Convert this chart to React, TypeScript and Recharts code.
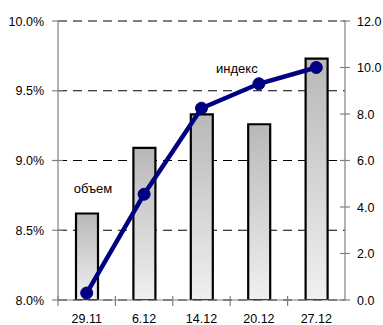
import React from 'react';
import { ComposedChart, Bar, Line, XAxis, YAxis, CartesianGrid, LabelList } from 'recharts';

const categories = ['29.11', '6.12', '14.12', '20.12', '27.12'];
const volumeValues = [8.62, 9.09, 9.33, 9.26, 9.73];
const indexValues = [0.3, 4.55, 8.25, 9.3, 10.0];
const leftTicks = [8.0, 8.5, 9.0, 9.5, 10.0];
const rightTicks = [0, 2, 4, 6, 8, 10, 12];
const volumeLabel = 'объем';
const indexLabel = 'индекс';

const data = categories.map((c, i) => ({ cat: c, volume: volumeValues[i], index: indexValues[i] }));

const FONT = '"Liberation Sans", Arial, sans-serif';
const AXIS = '#808080';

const XTick = (props: any) => {
  const { x, y, payload } = props;
  const off = payload && payload.offset != null ? payload.offset : 28.7;
  return (
    <g>
      <line x1={x - off} x2={x - off} y1={y - 4} y2={y + 6} stroke={AXIS} strokeWidth={1.2} />
      <text x={x} y={y + 23} textAnchor="middle" fontSize={12.5} fontFamily={FONT} fill="#000">
        {payload.value}
      </text>
    </g>
  );
};

const LeftTick = (props: any) => {
  const { x, y, payload } = props;
  return (
    <g>
      <line x1={x - 6} x2={x + 5} y1={y} y2={y} stroke={AXIS} strokeWidth={1.2} />
      <text x={x - 14} y={y} dy="0.36em" textAnchor="end" fontSize={12.5} fontFamily={FONT} fill="#000">
        {Number(payload.value).toFixed(1) + '%'}
      </text>
    </g>
  );
};

const RightTick = (props: any) => {
  const { x, y, payload } = props;
  return (
    <g>
      <line x1={x - 5} x2={x + 5} y1={y} y2={y} stroke={AXIS} strokeWidth={1.2} />
      <text x={x + 12} y={y} dy="0.36em" textAnchor="start" fontSize={12.5} fontFamily={FONT} fill="#000">
        {Number(payload.value).toFixed(1)}
      </text>
    </g>
  );
};

const VolumeLabel = (props: any) => {
  const { x, y, width, index } = props;
  if (index !== 0) return null;
  return (
    <text x={x + width / 2 + 6} y={y - 21} textAnchor="middle" fontSize={13} fontFamily={FONT} fill="#000">
      {volumeLabel}
    </text>
  );
};

const IndexLabel = (props: any) => {
  const { x, y, index } = props;
  if (index !== 3) return null;
  return (
    <text x={x - 22} y={y - 11} textAnchor="middle" fontSize={13} fontFamily={FONT} fill="#000">
      {indexLabel}
    </text>
  );
};

export default function App() {
  return (
    <div style={{ position: 'absolute', left: 0, top: 0, background: '#fff' }}>
      <ComposedChart
        width={383}
        height={325}
        data={data}
        margin={{ top: 21, right: 0, bottom: 0, left: 0 }}
        barCategoryGap={0}
      >
        <defs>
          <linearGradient id="barGrad" x1="0" y1="0" x2="0" y2="1">
            <stop offset="0%" stopColor="#b8b8b8" />
            <stop offset="100%" stopColor="#f0f0f0" />
          </linearGradient>
        </defs>
        <CartesianGrid
          yAxisId="left"
          vertical={false}
          stroke="#000"
          strokeDasharray="9 6"
          strokeWidth={1}
        />
        <XAxis
          dataKey="cat"
          height={25}
          tickSize={0}
          tickMargin={0}
          tickLine={false}
          axisLine={{ stroke: AXIS, strokeWidth: 1.2 }}
          tick={<XTick />}
          interval={0}
        />
        <YAxis
          yAxisId="left"
          orientation="left"
          width={58}
          domain={[8, 10]}
          ticks={leftTicks}
          tickSize={0}
          tickMargin={0}
          tickLine={false}
          axisLine={{ stroke: AXIS, strokeWidth: 1.2 }}
          tick={<LeftTick />}
          allowDataOverflow
        />
        <YAxis
          yAxisId="right"
          orientation="right"
          width={38}
          domain={[0, 12]}
          ticks={rightTicks}
          tickSize={0}
          tickMargin={0}
          tickLine={false}
          axisLine={{ stroke: AXIS, strokeWidth: 1.2 }}
          tick={<RightTick />}
        />
        <Bar
          yAxisId="left"
          dataKey="volume"
          barSize={22}
          fill="url(#barGrad)"
          stroke="#000"
          strokeWidth={2.2}
          isAnimationActive={false}
        >
          <LabelList dataKey="volume" content={<VolumeLabel />} />
        </Bar>
        <Line
          yAxisId="right"
          dataKey="index"
          stroke="#000080"
          strokeWidth={4.5}
          dot={{ r: 6, fill: '#000080', stroke: '#000080', strokeWidth: 1 }}
          activeDot={false}
          isAnimationActive={false}
        >
          <LabelList dataKey="index" content={<IndexLabel />} />
        </Line>
      </ComposedChart>
    </div>
  );
}
